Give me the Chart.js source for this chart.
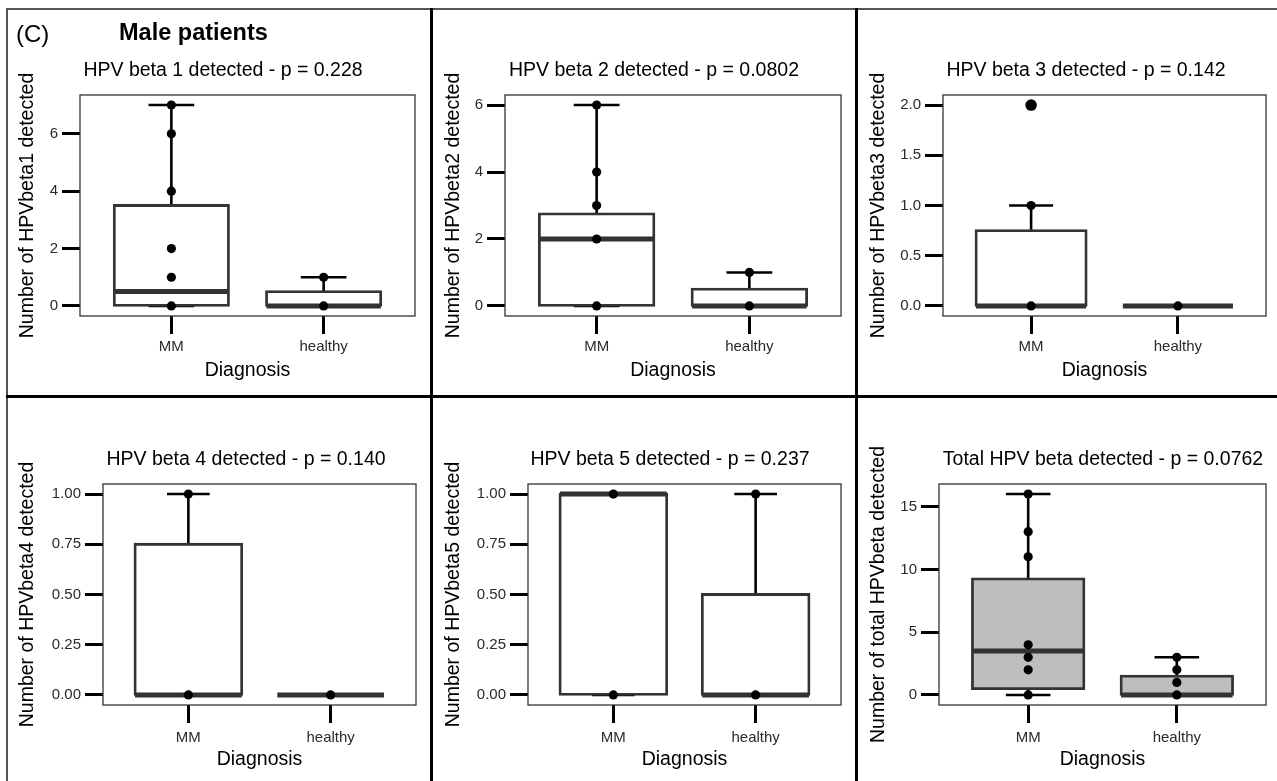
<!DOCTYPE html>
<html>
<head>
<meta charset="utf-8">
<script src="https://cdn.jsdelivr.net/npm/chart.js@4.4.1/dist/chart.umd.min.js"></script>
<style>
html, body { margin: 0; padding: 0; background: #fff; overflow: hidden; width: 1277px; height: 781px; }
#fig { position: relative; width: 1277px; height: 781px; overflow: hidden; font-family: "Liberation Sans", Arial, sans-serif; }
canvas { position: absolute; }
.txt { position: absolute; white-space: nowrap; color: #000; }
.ptitle { transform: translateX(-50%); font-size: 19.5px; line-height: 24px; }
.rule { position: absolute; }
</style>
</head>
<body>
<div id="fig"></div>
<script>
// ---------------- data ----------------
const categories = ['MM', 'healthy'];
const xAxisTitle = 'Diagnosis';
const figureLetter = '(C)';
const figureHeading = 'Male patients';

const panelTitles = [
  'HPV beta 1 detected - p = 0.228',
  'HPV beta 2 detected - p = 0.0802',
  'HPV beta 3 detected - p = 0.142',
  'HPV beta 4 detected - p = 0.140',
  'HPV beta 5 detected - p = 0.237',
  'Total HPV beta detected - p = 0.0762'
];
const yAxisTitles = [
  'Number of HPVbeta1 detected',
  'Number of HPVbeta2 detected',
  'Number of HPVbeta3 detected',
  'Number of HPVbeta4 detected',
  'Number of HPVbeta5 detected',
  'Number of total HPVbeta detected'
];

// box summaries: [lower whisker, Q1, median, Q3, upper whisker]
const beta1BoxMM = [0, 0, 0.5, 3.5, 7];
const beta1BoxHealthy = [0, 0, 0, 0.5, 1];
const beta1PointsMM = [0, 1, 2, 4, 6, 7];
const beta1PointsHealthy = [0, 1];
const beta1TickValues = [0, 2, 4, 6];
const beta1TickLabels = ['0', '2', '4', '6'];

const beta2BoxMM = [0, 0, 2, 2.75, 6];
const beta2BoxHealthy = [0, 0, 0, 0.5, 1];
const beta2PointsMM = [0, 2, 3, 4, 6];
const beta2PointsHealthy = [0, 1];
const beta2TickValues = [0, 2, 4, 6];
const beta2TickLabels = ['0', '2', '4', '6'];

const beta3BoxMM = [0, 0, 0, 0.75, 1];
const beta3BoxHealthy = [0, 0, 0, 0, 0];
const beta3PointsMM = [0, 1, 2];
const beta3PointsHealthy = [0];
const beta3OutliersMM = [2];
const beta3TickValues = [0, 0.5, 1, 1.5, 2];
const beta3TickLabels = ['0.0', '0.5', '1.0', '1.5', '2.0'];

const beta4BoxMM = [0, 0, 0, 0.75, 1];
const beta4BoxHealthy = [0, 0, 0, 0, 0];
const beta4PointsMM = [0, 1];
const beta4PointsHealthy = [0];
const beta4TickValues = [0, 0.25, 0.5, 0.75, 1];
const beta4TickLabels = ['0.00', '0.25', '0.50', '0.75', '1.00'];

const beta5BoxMM = [0, 0, 1, 1, 1];
const beta5BoxHealthy = [0, 0, 0, 0.5, 1];
const beta5PointsMM = [0, 1];
const beta5PointsHealthy = [0, 1];
const beta5TickValues = [0, 0.25, 0.5, 0.75, 1];
const beta5TickLabels = ['0.00', '0.25', '0.50', '0.75', '1.00'];

const totalBoxMM = [0, 0.5, 3.5, 9.25, 16];
const totalBoxHealthy = [0, 0, 0, 1.5, 3];
const totalPointsMM = [0, 2, 3, 4, 11, 13, 16];
const totalPointsHealthy = [0, 1, 2, 3];
const totalTickValues = [0, 5, 10, 15];
const totalTickLabels = ['0', '5', '10', '15'];

const panels = [
  { boxes: [beta1BoxMM, beta1BoxHealthy], points: [beta1PointsMM, beta1PointsHealthy], outliers: [[], []], ticks: beta1TickValues, tickLabels: beta1TickLabels },
  { boxes: [beta2BoxMM, beta2BoxHealthy], points: [beta2PointsMM, beta2PointsHealthy], outliers: [[], []], ticks: beta2TickValues, tickLabels: beta2TickLabels },
  { boxes: [beta3BoxMM, beta3BoxHealthy], points: [beta3PointsMM, beta3PointsHealthy], outliers: [beta3OutliersMM, []], ticks: beta3TickValues, tickLabels: beta3TickLabels },
  { boxes: [beta4BoxMM, beta4BoxHealthy], points: [beta4PointsMM, beta4PointsHealthy], outliers: [[], []], ticks: beta4TickValues, tickLabels: beta4TickLabels },
  { boxes: [beta5BoxMM, beta5BoxHealthy], points: [beta5PointsMM, beta5PointsHealthy], outliers: [[], []], ticks: beta5TickValues, tickLabels: beta5TickLabels },
  { boxes: [totalBoxMM, totalBoxHealthy], points: [totalPointsMM, totalPointsHealthy], outliers: [[], []], ticks: totalTickValues, tickLabels: totalTickLabels }
];

// ---------------- layout / style ----------------
const FONT = '"Liberation Sans", Arial, sans-serif';
const TICK_SIZE = 15, TITLE_SIZE = 19.5, TICK_LEN = 18;
const cols = [{ l: 9, r: 429 }, { l: 434, r: 854 }, { l: 858, r: 1277 }];
const rows = [
  { t: 11, b: 393, plotT: 95, plotB: 316, tickY: 347, xTitleY: 371, titleTop: 57 },
  { t: 399, b: 781, plotT: 484, plotB: 705, tickY: 738, xTitleY: 760, titleTop: 446 }
];
const panelLayout = [
  { col: 0, row: 0, plotL: 80, plotR: 415, ylabX: 28, titleX: 223 },
  { col: 1, row: 0, plotL: 505, plotR: 841, ylabX: 454, titleX: 654 },
  { col: 2, row: 0, plotL: 943, plotR: 1266, ylabX: 879, titleX: 1086 },
  { col: 0, row: 1, plotL: 103, plotR: 416, ylabX: 28, titleX: 246 },
  { col: 1, row: 1, plotL: 528, plotR: 841, ylabX: 454, titleX: 670 },
  { col: 2, row: 1, plotL: 939, plotR: 1266, ylabX: 879, titleX: 1103 }
];
const boxFills = ['#ffffff', '#ffffff', '#ffffff', '#ffffff', '#ffffff', '#bebebe'];
const BOX_HALF = 0.375, CAP_HALF = 0.15;

const fig = document.getElementById('fig');

function addRule(l, t, w, h, c) {
  const d = document.createElement('div');
  d.className = 'rule';
  Object.assign(d.style, { left: l + 'px', top: t + 'px', width: w + 'px', height: h + 'px', background: c });
  fig.appendChild(d);
}
function addText(text, cls, style) {
  const d = document.createElement('div');
  d.className = 'txt ' + cls;
  d.textContent = text;
  Object.assign(d.style, style);
  fig.appendChild(d);
}

const framePlugin = {
  id: 'frame',
  afterDatasetsDraw(chart) {
    const { ctx, chartArea: a } = chart;
    ctx.save();
    ctx.strokeStyle = '#333333';
    ctx.lineWidth = 1.3;
    ctx.strokeRect(a.left, a.top, a.right - a.left, a.bottom - a.top);
    ctx.restore();
  }
};

function gap(x) { return { x: x, y: null }; }

panels.forEach((p, k) => {
  const g = panelLayout[k];
  const c = cols[g.col], r = rows[g.row];
  const W = c.r - c.l, H = r.b - r.t;
  const canvas = document.createElement('canvas');
  canvas.width = W; canvas.height = H;
  Object.assign(canvas.style, { left: c.l + 'px', top: r.t + 'px', width: W + 'px', height: H + 'px' });
  fig.appendChild(canvas);

  addText(panelTitles[k], 'ptitle', { left: g.titleX + 'px', top: r.titleTop + 'px' });

  const allVals = [].concat(...p.points, ...p.boxes, ...p.outliers);
  const lo = Math.min(...allVals), hi = Math.max(...allVals);
  const pad = (hi - lo) * 0.05;
  const catPos = categories.map((_, i) => i + 1);

  const whiskers = [], medians = [], boxes = [], pts = [], outs = [];
  p.boxes.forEach((b, i) => {
    const x = catPos[i];
    whiskers.push({ x: x, y: b[0] }, { x: x, y: b[4] }, gap(x));
    whiskers.push({ x: x - CAP_HALF, y: b[4] }, { x: x + CAP_HALF, y: b[4] }, gap(x));
    whiskers.push({ x: x - CAP_HALF, y: b[0] }, { x: x + CAP_HALF, y: b[0] }, gap(x));
    boxes.push({ x: x, y: [b[1], b[3]] });
    medians.push({ x: x - BOX_HALF, y: b[2] }, { x: x + BOX_HALF, y: b[2] }, gap(x));
  });
  p.points.forEach((arr, i) => arr.forEach(v => pts.push({ x: catPos[i], y: v })));
  p.outliers.forEach((arr, i) => arr.forEach(v => outs.push({ x: catPos[i], y: v })));

  const tickLH = TICK_SIZE * 1.2, titleLH = TITLE_SIZE * 1.2;
  const yWidth = g.plotL - c.l;
  const xHeight = r.b - r.plotB;

  new Chart(canvas, {
    type: 'scatter',
    data: {
      datasets: [
        { type: 'line', data: whiskers, borderColor: '#000000', borderWidth: 2.6, pointRadius: 0, spanGaps: false, tension: 0, borderCapStyle: 'butt', order: 4 },
        { type: 'bar', data: boxes, backgroundColor: boxFills[k], borderColor: '#333333', borderWidth: 2.8, borderSkipped: false, inflateAmount: 1.4, barPercentage: 0.75, categoryPercentage: 1, order: 3 },
        { type: 'line', data: medians, borderColor: '#333333', borderWidth: 5, pointRadius: 0, spanGaps: false, tension: 0, borderCapStyle: 'butt', order: 2 },
        { type: 'scatter', data: pts, backgroundColor: '#000000', borderWidth: 0, pointRadius: 4.6, order: 1 },
        { type: 'scatter', data: outs, backgroundColor: '#000000', borderWidth: 0, pointRadius: 5.8, order: 0 }
      ]
    },
    options: {
      responsive: false,
      animation: false,
      events: [],
      layout: { padding: { left: 0, right: c.r - g.plotR, top: r.plotT - r.t, bottom: 0 } },
      plugins: { legend: { display: false }, tooltip: { enabled: false }, title: { display: false } },
      scales: {
        x: {
          type: 'linear', min: 0.4, max: 2.6, offset: false, bounds: 'data',
          afterBuildTicks: s => { s.ticks = catPos.map(v => ({ value: v })); },
          afterFit: s => { s.height = xHeight; },
          ticks: {
            autoSkip: false, maxRotation: 0, minRotation: 0,
            callback: (v, i) => categories[i],
            font: { family: FONT, size: TICK_SIZE }, color: '#2a2a2a',
            padding: r.tickY - r.plotB - TICK_LEN - tickLH / 2
          },
          grid: { offset: false, drawOnChartArea: false, drawTicks: true, tickLength: TICK_LEN, tickWidth: 3, tickColor: '#000000', color: '#000000' },
          border: { display: false },
          title: {
            display: true, text: xAxisTitle, color: '#000000',
            font: { family: FONT, size: TITLE_SIZE },
            padding: { top: 0, bottom: r.b - r.xTitleY - titleLH / 2 }
          }
        },
        y: {
          type: 'linear', min: lo - pad, max: hi + pad, bounds: 'data',
          afterBuildTicks: s => { s.ticks = p.ticks.map(v => ({ value: v })); },
          afterFit: s => { s.width = yWidth; },
          ticks: {
            callback: (v, i) => p.tickLabels[i],
            font: { family: FONT, size: TICK_SIZE }, color: '#2a2a2a', padding: 4
          },
          grid: { drawOnChartArea: false, drawTicks: true, tickLength: TICK_LEN, tickWidth: 3, tickColor: '#000000', color: '#000000' },
          border: { display: false },
          title: {
            display: true, text: yAxisTitles[k], color: '#000000',
            font: { family: FONT, size: TITLE_SIZE },
            padding: { top: g.ylabX - c.l - titleLH / 2, bottom: 0 }
          }
        }
      }
    },
    plugins: [framePlugin]
  });
});

// panel frame rules
addRule(6, 8, 1271, 2, '#555555');
addRule(6, 8, 2, 773, '#555555');
addRule(430, 8, 3, 773, '#000000');
addRule(855, 8, 3, 773, '#000000');
addRule(6, 395, 1271, 3, '#000000');

addText(figureLetter, '', { left: '16px', top: '20px', fontSize: '24px', lineHeight: '28px' });
addText(figureHeading, '', { left: '119px', top: '18px', fontSize: '23.5px', lineHeight: '28px', fontWeight: 'bold' });
</script>
</body>
</html>
